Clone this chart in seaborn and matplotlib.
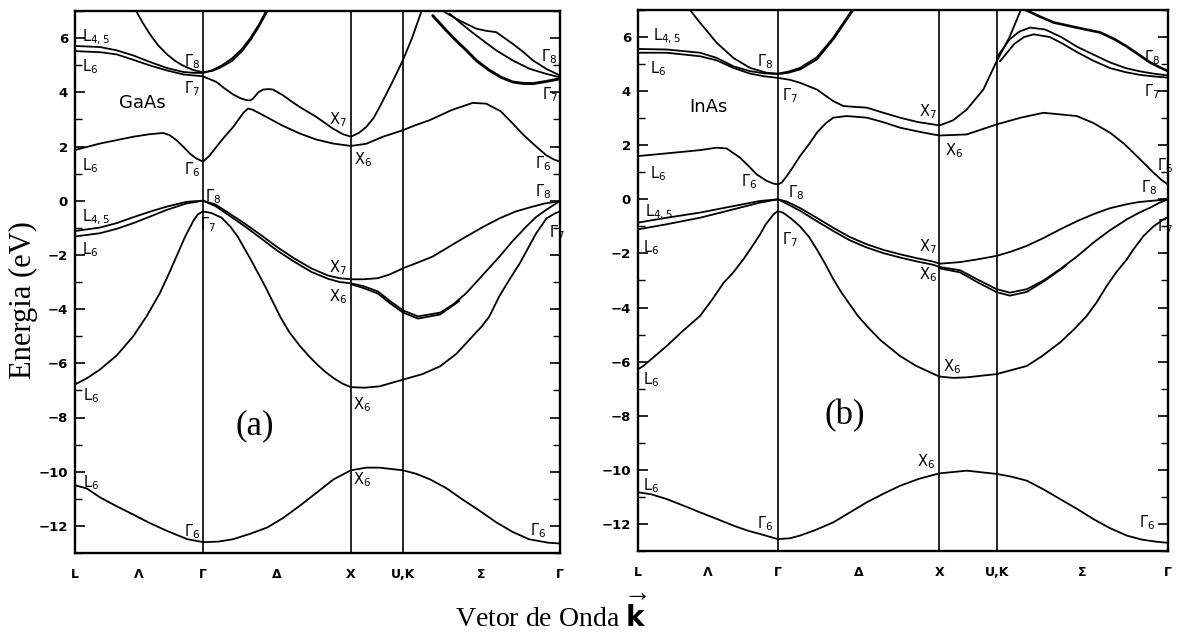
import numpy as np
import pandas as pd
import matplotlib
matplotlib.use("Agg")
import matplotlib.pyplot as plt
from matplotlib.ticker import MultipleLocator
import seaborn as sns

# ---------------- path / axes data ----------------
K_L, K_G, K_X, K_UK, K_G2 = 0.0, 0.866, 1.866, 2.220, 3.281
XTICK_POS = [0.0, 0.433, 0.866, 1.366, 1.866, 2.220, 2.75, 3.281]
XTICK_LABELS = ["L", "Λ", "Γ", "Δ", "X", "U,K", "Σ", "Γ"]
YTICKS = [-12, -10, -8, -6, -4, -2, 0, 2, 4, 6]

# ---------------- GaAs bands ----------------
GA_V1_K = [0, 0.08, 0.17, 0.28, 0.39, 0.50, 0.62, 0.76, 0.866, 0.97, 1.07, 1.18, 1.30, 1.41, 1.52, 1.64, 1.75, 1.866, 1.97, 2.06, 2.22, 2.31, 2.40, 2.51, 2.62, 2.74, 2.85, 2.96, 3.07, 3.20, 3.281]
GA_V1_E = [-10.5, -10.62, -10.95, -11.27, -11.57, -11.88, -12.18, -12.49, -12.6, -12.58, -12.49, -12.3, -12.06, -11.7, -11.26, -10.75, -10.28, -9.95, -9.85, -9.85, -9.95, -10.08, -10.28, -10.6, -11.02, -11.45, -11.87, -12.22, -12.49, -12.62, -12.65]

GA_V2_K = [0, 0.081, 0.169, 0.284, 0.394, 0.486, 0.574, 0.628, 0.687, 0.743, 0.80, 0.831, 0.866, 0.92, 0.99, 1.05, 1.10, 1.19, 1.29, 1.39, 1.45, 1.52, 1.58, 1.63, 1.69, 1.75, 1.81, 1.866, 1.96, 2.06, 2.22, 2.35, 2.47, 2.58, 2.69, 2.75, 2.80, 2.87, 2.94, 3.01, 3.07, 3.12, 3.19, 3.25, 3.281]
GA_V2_E = [-6.78, -6.55, -6.23, -5.7, -5.0, -4.25, -3.41, -2.78, -2.05, -1.35, -0.75, -0.5, -0.4, -0.45, -0.62, -0.95, -1.32, -2.18, -3.2, -4.3, -4.85, -5.35, -5.72, -6.0, -6.3, -6.55, -6.75, -6.88, -6.9, -6.85, -6.6, -6.4, -6.11, -5.65, -5.0, -4.65, -4.3, -3.53, -2.9, -2.3, -1.7, -1.2, -0.65, -0.46, -0.4]

GA_V3_K = [0, 0.169, 0.28, 0.394, 0.51, 0.62, 0.755, 0.866, 0.95, 1.036, 1.15, 1.261, 1.37, 1.486, 1.60, 1.711, 1.79, 1.866, 1.95, 2.05, 2.13, 2.22, 2.32, 2.47, 2.56, 2.647, 2.757, 2.872, 2.959, 3.052, 3.12, 3.187, 3.255, 3.281]
GA_V3_E = [-1.32, -1.2, -1.04, -0.83, -0.58, -0.34, -0.1, 0.0, -0.2, -0.52, -0.95, -1.40, -1.85, -2.26, -2.63, -2.88, -3.0, -3.05, -3.15, -3.35, -3.7, -4.05, -4.27, -4.13, -3.82, -3.41, -2.75, -2.06, -1.5, -0.96, -0.6, -0.34, -0.1, 0.0]
GA_V3B_K = [1.866, 1.95, 2.05, 2.13, 2.22, 2.32, 2.47, 2.60]
GA_V3B_E = [-3.08, -3.22, -3.43, -3.78, -4.13, -4.35, -4.2, -3.7]

GA_V4_K = [0, 0.169, 0.28, 0.394, 0.51, 0.62, 0.755, 0.866, 0.95, 1.036, 1.15, 1.261, 1.37, 1.486, 1.60, 1.711, 1.79, 1.866, 1.95, 2.049, 2.13, 2.22, 2.32, 2.42, 2.53, 2.647, 2.76, 2.872, 2.98, 3.095, 3.18, 3.255, 3.281]
GA_V4_E = [-1.12, -0.99, -0.83, -0.61, -0.4, -0.22, -0.04, 0.0, -0.14, -0.44, -0.85, -1.28, -1.72, -2.14, -2.5, -2.76, -2.86, -2.9, -2.9, -2.86, -2.72, -2.49, -2.28, -2.06, -1.7, -1.32, -0.97, -0.65, -0.4, -0.22, -0.1, -0.04, 0.0]

GA_C1_K = [0, 0.169, 0.394, 0.50, 0.597, 0.64, 0.687, 0.735, 0.777, 0.82, 0.866, 0.91, 0.957, 1.01, 1.07, 1.14, 1.171, 1.20, 1.24, 1.295, 1.40, 1.52, 1.63, 1.745, 1.866, 1.97, 2.083, 2.218, 2.30, 2.399, 2.55, 2.691, 2.782, 2.88, 2.961, 3.03, 3.097, 3.187, 3.24, 3.281]
GA_C1_E = [1.87, 2.11, 2.36, 2.45, 2.5, 2.42, 2.23, 1.98, 1.74, 1.56, 1.44, 1.66, 1.99, 2.35, 2.72, 3.25, 3.4, 3.36, 3.25, 3.09, 2.78, 2.48, 2.26, 2.11, 2.02, 2.1, 2.36, 2.6, 2.78, 2.97, 3.35, 3.61, 3.58, 3.3, 2.85, 2.45, 2.11, 1.68, 1.52, 1.44]

GA_C2_K = [0, 0.169, 0.281, 0.394, 0.507, 0.62, 0.732, 0.866, 0.957, 1.01, 1.07, 1.12, 1.16, 1.185, 1.205, 1.24, 1.272, 1.31, 1.34, 1.407, 1.46, 1.52, 1.633, 1.745, 1.81, 1.866, 1.92, 1.97, 2.02, 2.061, 2.14, 2.218, 2.28, 2.343]
GA_C2_E = [5.52, 5.48, 5.4, 5.2, 4.99, 4.81, 4.66, 4.59, 4.38, 4.15, 3.92, 3.78, 3.71, 3.7, 3.77, 4.0, 4.1, 4.12, 4.1, 3.89, 3.68, 3.46, 3.09, 2.66, 2.46, 2.36, 2.5, 2.72, 3.05, 3.46, 4.3, 5.18, 6.0, 6.98]

GA_C3_K = [0, 0.169, 0.281, 0.394, 0.507, 0.62, 0.732, 0.80, 0.866, 0.93, 0.99, 1.06, 1.13, 1.19, 1.25, 1.29]
GA_C3_E = [5.71, 5.67, 5.55, 5.36, 5.12, 4.9, 4.75, 4.72, 4.71, 4.82, 4.98, 5.24, 5.6, 6.03, 6.55, 6.98]

GA_C4_K = [0.415, 0.46, 0.505, 0.56, 0.618, 0.68, 0.729, 0.80, 0.866, 0.93, 0.99, 1.06, 1.13, 1.19, 1.25, 1.30]
GA_C4_E = [6.98, 6.55, 6.16, 5.75, 5.42, 5.15, 4.99, 4.82, 4.74, 4.79, 4.93, 5.15, 5.52, 5.95, 6.48, 6.98]

GA_S1_K = [2.50, 2.601, 2.714, 2.78, 2.849, 2.961, 3.03, 3.097, 3.187, 3.281]
GA_S1_E = [6.96, 6.65, 6.35, 6.27, 6.22, 5.79, 5.5, 5.18, 4.87, 4.62]
GA_S2_K = [2.534, 2.61, 2.69, 2.77, 2.849, 2.96, 3.074, 3.176, 3.281]
GA_S2_E = [6.9, 6.55, 6.2, 5.87, 5.55, 5.18, 4.87, 4.7, 4.55]
GA_S3_K = [2.42, 2.512, 2.58, 2.647, 2.72, 2.804, 2.88, 2.961, 3.03, 3.097, 3.187, 3.281]
GA_S3_E = [6.83, 6.28, 5.9, 5.55, 5.15, 4.81, 4.56, 4.38, 4.33, 4.32, 4.4, 4.5]

# ---------------- InAs bands ----------------
IN_V1_K = [0, 0.08, 0.178, 0.28, 0.384, 0.49, 0.59, 0.68, 0.755, 0.866, 0.94, 1.003, 1.1, 1.209, 1.31, 1.416, 1.52, 1.622, 1.74, 1.866, 2.035, 2.22, 2.31, 2.407, 2.51, 2.613, 2.72, 2.819, 2.92, 3.026, 3.12, 3.20, 3.281]
IN_V1_E = [-10.83, -10.9, -11.08, -11.32, -11.57, -11.82, -12.06, -12.25, -12.37, -12.56, -12.53, -12.43, -12.22, -11.94, -11.58, -11.2, -10.88, -10.59, -10.33, -10.13, -10.03, -10.15, -10.25, -10.4, -10.72, -11.08, -11.45, -11.82, -12.15, -12.43, -12.58, -12.65, -12.7]

IN_V2_K = [0, 0.033, 0.178, 0.28, 0.384, 0.46, 0.528, 0.59, 0.652, 0.70, 0.755, 0.79, 0.84, 0.866, 0.90, 0.95, 1.003, 1.06, 1.107, 1.16, 1.209, 1.26, 1.313, 1.36, 1.416, 1.50, 1.622, 1.72, 1.828, 1.866, 1.95, 2.035, 2.22, 2.407, 2.50, 2.613, 2.70, 2.778, 2.84, 2.902, 2.96, 3.026, 3.067, 3.13, 3.191, 3.253, 3.281]
IN_V2_E = [-6.28, -6.16, -5.42, -4.85, -4.31, -3.7, -3.1, -2.7, -2.22, -1.8, -1.3, -0.93, -0.55, -0.43, -0.5, -0.72, -1.0, -1.4, -1.85, -2.4, -2.95, -3.45, -3.9, -4.3, -4.68, -5.2, -5.79, -6.15, -6.45, -6.55, -6.6, -6.58, -6.46, -6.16, -5.8, -5.29, -4.8, -4.31, -3.8, -3.2, -2.7, -2.22, -1.85, -1.35, -1.0, -0.74, -0.65]

IN_V3_K = [0, 0.178, 0.384, 0.59, 0.755, 0.866, 0.92, 1.003, 1.1, 1.209, 1.31, 1.416, 1.52, 1.622, 1.73, 1.828, 1.866, 1.994, 2.097, 2.22, 2.303, 2.407, 2.51, 2.613, 2.72, 2.819, 2.92, 3.026, 3.10, 3.170, 3.23, 3.281]
IN_V3_E = [-1.11, -0.92, -0.68, -0.37, -0.12, 0.0, -0.16, -0.42, -0.78, -1.17, -1.51, -1.78, -1.99, -2.15, -2.3, -2.42, -2.5, -2.62, -2.95, -3.32, -3.45, -3.32, -3.0, -2.58, -2.1, -1.6, -1.15, -0.74, -0.5, -0.31, -0.12, 0.0]
IN_V3B_K = [1.866, 1.994, 2.097, 2.22, 2.303, 2.407, 2.52, 2.65]
IN_V3B_E = [-2.55, -2.7, -3.05, -3.43, -3.56, -3.42, -3.0, -2.45]

IN_V4_K = [0, 0.178, 0.384, 0.59, 0.755, 0.866, 0.92, 1.003, 1.1, 1.209, 1.31, 1.416, 1.52, 1.622, 1.73, 1.828, 1.866, 1.994, 2.10, 2.22, 2.31, 2.407, 2.51, 2.613, 2.72, 2.819, 2.92, 3.026, 3.10, 3.170, 3.281]
IN_V4_E = [-0.86, -0.68, -0.49, -0.25, -0.06, 0.0, -0.08, -0.32, -0.66, -1.05, -1.39, -1.66, -1.87, -2.03, -2.18, -2.3, -2.38, -2.32, -2.22, -2.09, -1.93, -1.72, -1.43, -1.11, -0.8, -0.55, -0.33, -0.18, -0.1, -0.06, 0.0]

IN_C1_K = [0, 0.178, 0.384, 0.487, 0.549, 0.632, 0.69, 0.735, 0.797, 0.84, 0.866, 0.89, 0.921, 0.96, 1.003, 1.06, 1.107, 1.16, 1.209, 1.292, 1.416, 1.52, 1.622, 1.74, 1.828, 1.866, 2.035, 2.22, 2.37, 2.51, 2.716, 2.82, 2.923, 3.01, 3.088, 3.191, 3.24, 3.281]
IN_C1_E = [1.6, 1.70, 1.82, 1.91, 1.88, 1.54, 1.2, 0.92, 0.68, 0.58, 0.55, 0.62, 0.86, 1.2, 1.6, 2.05, 2.46, 2.8, 3.02, 3.08, 3.02, 2.85, 2.65, 2.5, 2.4, 2.36, 2.4, 2.77, 3.02, 3.2, 3.08, 2.82, 2.46, 2.05, 1.6, 0.99, 0.72, 0.55]

IN_C2_K = [0, 0.178, 0.384, 0.487, 0.59, 0.693, 0.78, 0.866, 0.94, 1.003, 1.107, 1.209, 1.271, 1.34, 1.416, 1.52, 1.622, 1.73, 1.828, 1.866, 1.95, 2.035, 2.138, 2.22, 2.30, 2.37]
IN_C2_E = [5.42, 5.42, 5.29, 5.14, 4.86, 4.65, 4.55, 4.49, 4.42, 4.31, 4.06, 3.63, 3.45, 3.42, 3.39, 3.2, 3.02, 2.86, 2.77, 2.73, 2.92, 3.32, 4.06, 5.1, 6.0, 7.0]

IN_C3_K = [0, 0.178, 0.384, 0.487, 0.59, 0.693, 0.78, 0.866, 0.93, 1.003, 1.107, 1.209, 1.333]
IN_C3_E = [5.56, 5.54, 5.42, 5.23, 4.92, 4.74, 4.66, 4.63, 4.68, 4.8, 5.17, 5.91, 7.0]

IN_C4_K = [0.322, 0.384, 0.487, 0.59, 0.693, 0.797, 0.866, 0.93, 1.003, 1.107, 1.209, 1.325]
IN_C4_E = [7.0, 6.53, 5.79, 5.23, 4.86, 4.68, 4.65, 4.72, 4.86, 5.25, 5.98, 7.0]

IN_S1_K = [2.40, 2.49, 2.572, 2.716, 2.861, 2.95, 3.026, 3.10, 3.170, 3.23, 3.281]
IN_S1_E = [7.0, 6.75, 6.54, 6.35, 6.17, 5.92, 5.65, 5.35, 5.06, 4.88, 4.74]
IN_S2_K = [2.22, 2.30, 2.36, 2.427, 2.52, 2.62, 2.716, 2.82, 2.923, 3.02, 3.109, 3.20, 3.281]
IN_S2_E = [5.24, 5.91, 6.2, 6.35, 6.28, 6.0, 5.65, 5.35, 5.06, 4.85, 4.73, 4.64, 4.58]
IN_S3_K = [2.24, 2.33, 2.39, 2.45, 2.55, 2.63, 2.716, 2.82, 2.923, 3.02, 3.109, 3.20, 3.281]
IN_S3_E = [5.1, 5.75, 6.0, 6.1, 6.0, 5.75, 5.45, 5.12, 4.85, 4.7, 4.6, 4.54, 4.5]

# ---------------- labels (text, k, E, ha) ----------------
GA_LABELS = [
    (r"$L_{4,5}$", 0.047, 6.03, "left"), (r"$L_6$", 0.047, 4.96, "left"),
    (r"$\Gamma_8$", 0.845, 5.14, "right"), (r"$\Gamma_7$", 0.845, 4.15, "right"),
    (r"$X_7$", 1.838, 3.0, "right"), (r"$X_6$", 1.89, 1.5, "left"),
    (r"$L_6$", 0.047, 1.31, "left"), (r"$\Gamma_6$", 0.845, 1.13, "right"),
    (r"$\Gamma_8$", 0.878, 0.14, "left"), (r"$L_{4,5}$", 0.047, -0.6, "left"),
    (r"$\Gamma_7$", 0.845, -0.89, "left"), (r"$L_6$", 0.047, -1.81, "left"),
    (r"$X_7$", 1.838, -2.48, "right"), (r"$X_6$", 1.838, -3.55, "right"),
    (r"$L_6$", 0.054, -7.19, "left"), (r"$X_6$", 1.878, -7.52, "left"),
    (r"$L_6$", 0.054, -10.39, "left"), (r"$X_6$", 1.878, -10.28, "left"),
    (r"$\Gamma_6$", 0.845, -12.23, "right"),
    (r"$\Gamma_8$", 3.264, 5.33, "right"), (r"$\Gamma_7$", 3.264, 3.93, "right"),
    (r"$\Gamma_6$", 3.223, 1.35, "right"), (r"$\Gamma_8$", 3.223, 0.32, "right"),
    (r"$\Gamma_7$", 3.311, -1.19, "right"), (r"$\Gamma_6$", 3.19, -12.19, "right"),
]
IN_LABELS = [
    (r"$L_{4,5}$", 0.093, 6.02, "left"), (r"$L_6$", 0.074, 4.84, "left"),
    (r"$\Gamma_8$", 0.836, 5.1, "right"), (r"$\Gamma_7$", 0.892, 3.84, "left"),
    (r"$X_7$", 1.851, 3.25, "right"), (r"$X_6$", 1.90, 1.81, "left"),
    (r"$L_6$", 0.074, 0.96, "left"), (r"$\Gamma_6$", 0.737, 0.66, "right"),
    (r"$\Gamma_8$", 0.929, 0.26, "left"), (r"$L_{4,5}$", 0.043, -0.48, "left"),
    (r"$\Gamma_7$", 0.892, -1.48, "left"), (r"$L_6$", 0.031, -1.77, "left"),
    (r"$X_7$", 1.851, -1.74, "right"), (r"$X_6$", 1.851, -2.77, "right"),
    (r"$L_6$", 0.031, -6.68, "left"), (r"$X_6$", 1.889, -6.2, "left"),
    (r"$X_6$", 1.839, -9.71, "right"), (r"$L_6$", 0.031, -10.6, "left"),
    (r"$\Gamma_6$", 0.836, -12.0, "right"),
    (r"$\Gamma_8$", 3.232, 5.24, "right"), (r"$\Gamma_7$", 3.232, 3.99, "right"),
    (r"$\Gamma_6$", 3.313, 1.26, "right"), (r"$\Gamma_8$", 3.214, 0.44, "right"),
    (r"$\Gamma_7$", 3.313, -1.0, "right"), (r"$\Gamma_6$", 3.201, -11.96, "right"),
]

# ---------------- build long data ----------------
BAND_LW = 1.3
THICK_LW = 2.1


def bands_frame(entries):
    rows = []
    for name, ks, es, lw in entries:
        rows.append(pd.DataFrame({"band": name, "k": ks, "E": es, "lw": lw}))
    return pd.concat(rows, ignore_index=True)


ga_df = bands_frame([
    ("V1", GA_V1_K, GA_V1_E, BAND_LW), ("V2", GA_V2_K, GA_V2_E, BAND_LW),
    ("V3", GA_V3_K, GA_V3_E, BAND_LW), ("V3B", GA_V3B_K, GA_V3B_E, BAND_LW),
    ("V4", GA_V4_K, GA_V4_E, BAND_LW), ("C1", GA_C1_K, GA_C1_E, BAND_LW),
    ("C2", GA_C2_K, GA_C2_E, BAND_LW), ("C3", GA_C3_K, GA_C3_E, BAND_LW),
    ("C4", GA_C4_K, GA_C4_E, BAND_LW), ("S1", GA_S1_K, GA_S1_E, BAND_LW),
    ("S2", GA_S2_K, GA_S2_E, BAND_LW), ("S3", GA_S3_K, GA_S3_E, THICK_LW),
])
in_df = bands_frame([
    ("V1", IN_V1_K, IN_V1_E, BAND_LW), ("V2", IN_V2_K, IN_V2_E, BAND_LW),
    ("V3", IN_V3_K, IN_V3_E, BAND_LW), ("V3B", IN_V3B_K, IN_V3B_E, BAND_LW),
    ("V4", IN_V4_K, IN_V4_E, BAND_LW), ("C1", IN_C1_K, IN_C1_E, BAND_LW),
    ("C2", IN_C2_K, IN_C2_E, BAND_LW), ("C3", IN_C3_K, IN_C3_E, BAND_LW),
    ("C4", IN_C4_K, IN_C4_E, BAND_LW), ("S1", IN_S1_K, IN_S1_E, 1.9),
    ("S2", IN_S2_K, IN_S2_E, BAND_LW), ("S3", IN_S3_K, IN_S3_E, BAND_LW),
])

# ---------------- plotting ----------------
sns.set_theme(style="white")
plt.rcParams["font.family"] = ["DejaVu Sans"]
plt.rcParams["mathtext.fontset"] = "dejavusans"
plt.rcParams["mathtext.default"] = "regular"

fig = plt.figure(figsize=(11.79, 6.35), dpi=100)
W, H = 1179, 635
ax1 = fig.add_axes([75 / W, 1 - 553 / H, 485 / W, 542 / H])
ax2 = fig.add_axes([638 / W, 1 - 551 / H, 530 / W, 541 / H])


def draw(ax, df, labels, name, name_pos, panel_tag, tag_pos):
    for lw, sub in df.groupby("lw"):
        sns.lineplot(data=sub, x="k", y="E", units="band", estimator=None, sort=False,
                     color="black", linewidth=lw, ax=ax, legend=False)
    ax.set_xlim(K_L, K_G2)
    ax.set_ylim(-13, 7)
    for kk in (K_G, K_X, K_UK):
        ax.axvline(kk, color="black", lw=1.2, zorder=1)
    ax.set_xticks(XTICK_POS)
    ax.set_xticklabels(XTICK_LABELS, fontsize=9, fontweight="bold")
    ax.tick_params(axis="x", length=0, pad=11, colors="black")
    ax.set_yticks(YTICKS)
    ax.set_yticklabels([str(v).replace("-", "\u2212") for v in YTICKS], fontsize=9.5, fontweight="bold")
    ax.yaxis.set_minor_locator(MultipleLocator(1))
    ax.tick_params(axis="y", which="both", direction="in", left=True, right=True,
                   colors="black")
    ax.tick_params(axis="y", which="major", length=7, width=1.2, pad=5)
    ax.tick_params(axis="y", which="minor", length=5, width=1.0)
    ax.set_xlabel("")
    ax.set_ylabel("")
    for s in ax.spines.values():
        s.set_visible(True)
        s.set_linewidth(1.7)
        s.set_color("black")
    for txt, k, e, ha in labels:
        ax.text(k, e, txt, ha=ha, va="center", fontsize=10.5, color="black")
    ax.text(name_pos[0], name_pos[1], name, ha="center", va="center", fontsize=13, color="black")
    ax.text(tag_pos[0], tag_pos[1], panel_tag, ha="center", va="center", fontsize=25,
            family="Liberation Serif", color="black")


draw(ax1, ga_df, GA_LABELS, "GaAs", (0.453, 3.6), "(a)", (1.216, -8.3))
draw(ax2, in_df, IN_LABELS, "InAs", (0.433, 3.43), "(b)", (1.28, -8.0))

fig.text(23 / W, 1 - 300 / H, "Energia (eV)", rotation=90, ha="center", va="center",
         fontsize=22, family="Liberation Serif", color="black")
fig.text(551 / W, 1 - 615 / H, r"Vetor de Onda $\overrightarrow{\mathbf{k}}$", ha="center", va="center",
         fontsize=20, family="Liberation Serif", color="black")

fig.savefig("out.png", dpi=100)
